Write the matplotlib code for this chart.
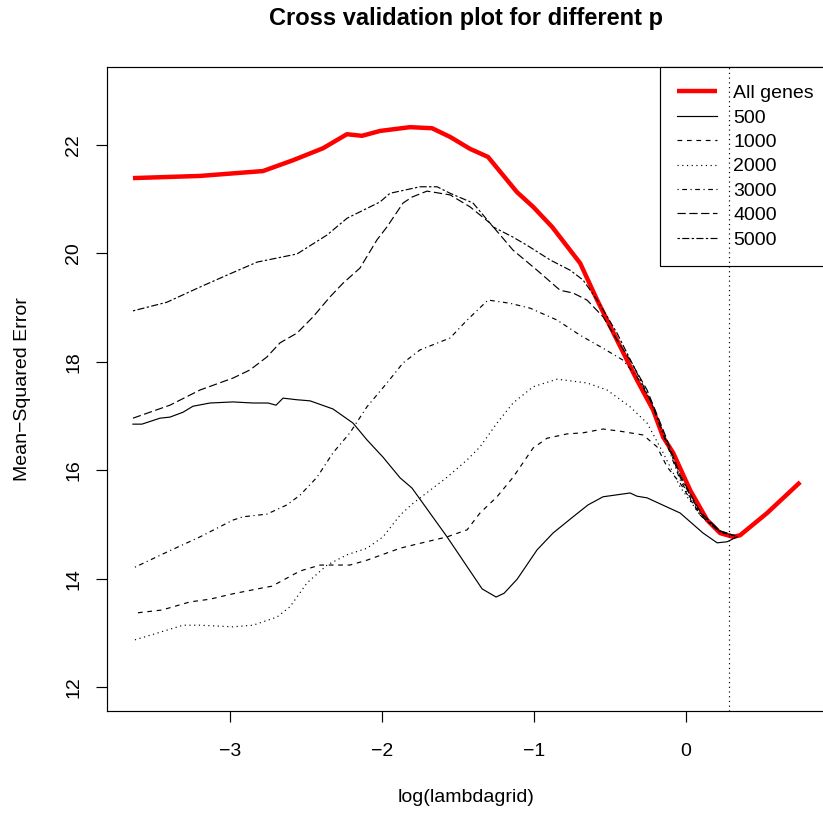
import matplotlib
matplotlib.use("Agg")
import matplotlib.pyplot as plt

plt.rcParams['font.family'] = ['Liberation Sans', 'DejaVu Sans']
plt.rcParams['lines.scale_dashes'] = True

# curves (x = log(lambdagrid), y = MSE)
x_all = [-3.642, -3.20, -2.785, -2.587, -2.39, -2.232, -2.133, -2.014, -1.816, -1.671,
         -1.552, -1.421, -1.302, -1.111, -1.005, -0.88, -0.695, -0.583, -0.452, -0.32,
         -0.214, -0.148, -0.082, 0.03, 0.142, 0.227, 0.313, 0.359, 0.537, 0.755]
y_all = [21.39, 21.43, 21.52, 21.72, 21.94, 22.20, 22.17, 22.26, 22.33, 22.31,
         22.15, 21.93, 21.78, 21.13, 20.86, 20.49, 19.82, 19.14, 18.40, 17.66,
         17.11, 16.61, 16.32, 15.63, 15.08, 14.84, 14.77, 14.80, 15.21, 15.78]

x_500 = [-3.642, -3.583, -3.464, -3.398, -3.312, -3.247, -3.135, -2.983, -2.851, -2.752,
         -2.699, -2.653, -2.561, -2.475, -2.324, -2.192, -2.1, -1.994, -1.882, -1.803,
         -1.572, -1.341, -1.249, -1.196, -1.11, -0.979, -0.874, -0.742, -0.643, -0.544,
         -0.366, -0.32, -0.254, -0.122, -0.036, 0.115, 0.208, 0.274, 0.339]
y_500 = [16.85, 16.85, 16.96, 16.98, 17.07, 17.18, 17.24, 17.26, 17.24, 17.24,
         17.20, 17.33, 17.30, 17.28, 17.13, 16.87, 16.56, 16.24, 15.86, 15.67,
         14.77, 13.81, 13.66, 13.73, 13.99, 14.53, 14.84, 15.14, 15.36, 15.51,
         15.58, 15.52, 15.49, 15.32, 15.21, 14.84, 14.66, 14.68, 14.77]

x_1000 = [-3.609, -3.451, -3.266, -3.135, -2.983, -2.785, -2.726, -2.541, -2.409, -2.212,
          -2.1, -1.882, -1.796, -1.572, -1.44, -1.355, -1.243, -1.137, -1.005, -0.913,
          -0.781, -0.676, -0.544, -0.432, -0.28, -0.188, -0.122, -0.036, 0.096, 0.227, 0.326]
y_1000 = [13.37, 13.42, 13.57, 13.62, 13.72, 13.83, 13.86, 14.14, 14.25, 14.25,
          14.34, 14.56, 14.62, 14.77, 14.90, 15.21, 15.51, 15.87, 16.41, 16.59,
          16.67, 16.69, 16.76, 16.72, 16.65, 16.43, 16.06, 15.76, 15.17, 14.86, 14.79]

x_2000 = [-3.629, -3.464, -3.312, -3.2, -2.983, -2.851, -2.693, -2.607, -2.495, -2.363,
          -2.231, -2.1, -1.994, -1.882, -1.796, -1.572, -1.44, -1.355, -1.243, -1.137,
          -1.005, -0.847, -0.65, -0.518, -0.366, -0.254, -0.148, -0.036, 0.096, 0.227, 0.326]
y_2000 = [12.87, 13.01, 13.14, 13.14, 13.11, 13.14, 13.29, 13.48, 13.92, 14.25,
          14.44, 14.56, 14.77, 15.17, 15.39, 15.87, 16.19, 16.43, 16.87, 17.24,
          17.54, 17.68, 17.61, 17.48, 17.17, 16.87, 16.32, 15.69, 15.17, 14.86, 14.79]

x_3000 = [-3.629, -3.418, -3.2, -2.983, -2.917, -2.759, -2.627, -2.541, -2.429, -2.324,
          -2.212, -2.1, -1.968, -1.862, -1.75, -1.552, -1.44, -1.302, -1.157, -1.025,
          -0.847, -0.695, -0.544, -0.412, -0.32, -0.234, -0.135, -0.036, 0.096, 0.227, 0.326]
y_3000 = [14.21, 14.49, 14.77, 15.08, 15.14, 15.19, 15.36, 15.54, 15.87, 16.32,
          16.69, 17.17, 17.61, 17.98, 18.22, 18.44, 18.77, 19.14, 19.08, 18.99,
          18.77, 18.49, 18.25, 18.03, 17.72, 17.30, 16.56, 15.82, 15.17, 14.86, 14.79]

x_4000 = [-3.642, -3.398, -3.2, -2.983, -2.871, -2.759, -2.673, -2.561, -2.455, -2.343,
          -2.258, -2.146, -2.034, -1.968, -1.862, -1.803, -1.704, -1.552, -1.421, -1.289,
          -1.137, -0.979, -0.827, -0.742, -0.65, -0.544, -0.452, -0.366, -0.254, -0.135,
          -0.036, 0.096, 0.227, 0.326]
y_4000 = [16.96, 17.20, 17.48, 17.70, 17.85, 18.09, 18.35, 18.53, 18.83, 19.20,
          19.45, 19.73, 20.25, 20.49, 20.93, 21.04, 21.15, 21.08, 20.86, 20.56,
          20.06, 19.69, 19.32, 19.27, 19.14, 18.83, 18.40, 18.03, 17.48, 16.65,
          15.91, 15.23, 14.88, 14.79]

x_5000 = [-3.642, -3.418, -3.2, -3.022, -2.824, -2.561, -2.363, -2.231, -2.014, -1.948,
          -1.75, -1.638, -1.552, -1.401, -1.269, -1.137, -1.045, -0.893, -0.761, -0.676,
          -0.583, -0.452, -0.32, -0.234, -0.135, -0.036, 0.096, 0.227, 0.326]
y_5000 = [18.94, 19.10, 19.38, 19.60, 19.84, 19.99, 20.34, 20.65, 20.95, 21.11,
          21.23, 21.23, 21.11, 20.93, 20.49, 20.30, 20.15, 19.88, 19.69, 19.51,
          19.14, 18.53, 17.79, 17.30, 16.59, 15.87, 15.21, 14.88, 14.79]

best_loglambda = 0.287

# R style line types: solid, dashed, dotted, dotdash, longdash, twodash
series = [
    ('500', x_500, y_500, '-'),
    ('1000', x_1000, y_1000, (0, (4, 4))),
    ('2000', x_2000, y_2000, (0, (1, 3))),
    ('3000', x_3000, y_3000, (0, (1, 3, 4, 3))),
    ('4000', x_4000, y_4000, (0, (7, 3))),
    ('5000', x_5000, y_5000, (0, (2, 2, 6, 2))),
]

W, H = 823, 814
fig = plt.figure(figsize=(W / 100, H / 100), dpi=100)
ax = fig.add_axes([107 / W, 1 - 711 / H, (826 - 107) / W, (711 - 67) / H])

lw = 0.85
ax.plot(x_all, y_all, color='red', lw=3.2, label='All genes', solid_capstyle='butt')
for name, xs, ys, ls in series:
    ax.plot(xs, ys, color='black', lw=lw, linestyle=ls, label=name)
# abline drawn after the legend in the original, so it shows through the box
ax.axvline(best_loglambda, color='black', lw=lw, linestyle=(0, (1, 3)), zorder=6)

ax.set_xlim(-3.813, 0.925)
ax.set_ylim(11.557, 23.44)
ax.set_xticks([-3, -2, -1, 0])
ax.set_yticks([12, 14, 16, 18, 20, 22])

for sp in ax.spines.values():
    sp.set_linewidth(lw)
ax.tick_params(direction='out', length=8, width=lw, labelsize=14)
ax.tick_params(axis='x', pad=15)
ax.tick_params(axis='y', pad=10, labelrotation=90)
for lab in ax.get_yticklabels():
    lab.set_va('center')

leg = ax.legend(loc='upper left', bbox_to_anchor=(0.769, 1.0), borderaxespad=0,
                fontsize=14, frameon=True, fancybox=False, framealpha=1,
                edgecolor='black', handlelength=2.06, handletextpad=0.8,
                labelspacing=0.35, borderpad=0.9)
leg.get_frame().set_linewidth(lw)
leg.set_zorder(5)

fig.text(466 / W, 1 - 25 / H, 'Cross validation plot for different p',
         ha='center', va='baseline', fontsize=17, fontweight='bold')
fig.text(466 / W, 1 - 797 / H, 'log(lambdagrid)', ha='center', va='center', fontsize=14)
fig.text(23 / W, 1 - 389 / H, 'Mean\u2212Squared Error', ha='center', va='center',
         rotation=90, fontsize=14)

fig.savefig('out.png', dpi=100, facecolor='white')
